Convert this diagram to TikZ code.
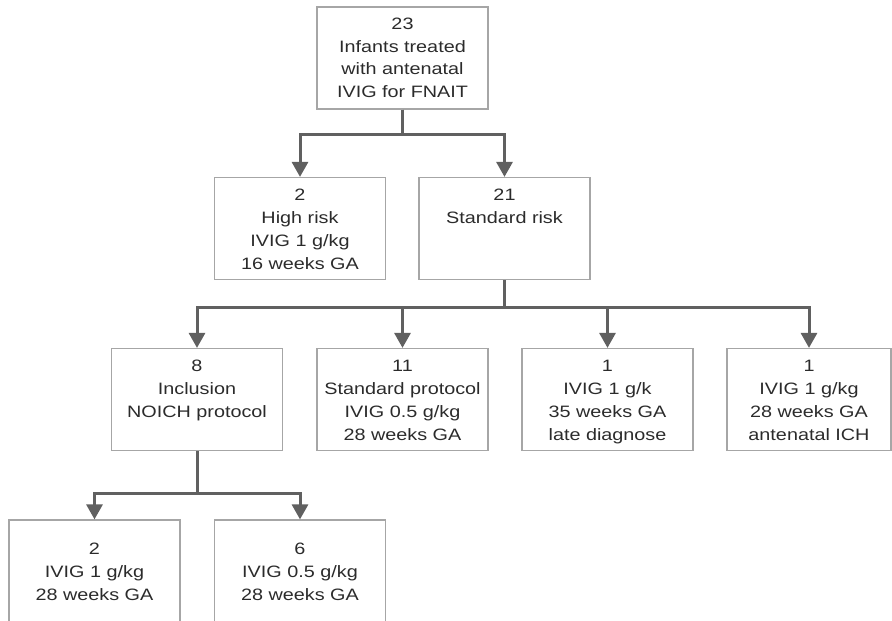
\documentclass[tikz,border=0pt]{standalone}
\usepackage{fontspec}
\setmainfont[FakeStretch=1.2]{Liberation Sans}
\usetikzlibrary{arrows.meta}
\definecolor{boxgrey}{HTML}{A6A6A6}
\definecolor{linegrey}{HTML}{606060}
\definecolor{textgrey}{HTML}{2B2B2B}
% text of a box: width, height of first line, lines
\newcommand{\boxtext}[3]{\parbox[c][102pt][t]{#1pt}{\centering\rule{0pt}{#2pt}#3}}
\begin{document}
\begin{tikzpicture}[x=1pt,y=-1pt,
  box/.style={draw=boxgrey,line width=1.2pt,inner sep=0pt,text=textgrey,
    font=\fontsize{16.5}{23}\selectfont},
  arr/.style={draw=linegrey,line width=3pt,-{Triangle[width=16pt,length=15pt]}}]
  \useasboundingbox (0,0) rectangle (892,621);
  % top
  \node[box] (infants) at (402.5,58) {\boxtext{171}{22}{23\\Infants treated\\with antenatal\\IVIG for FNAIT}};
  % risk
  \node[box] (high) at (300,228.5) {\boxtext{171}{23}{2\\High risk\\IVIG 1 g/kg\\16 weeks GA}};
  \node[box] (standard) at (504.5,228.5) {\boxtext{171}{23}{21\\Standard risk}};
  % standard risk groups
  \node[box] (noich) at (197,399.5) {\boxtext{171}{22.5}{8\\Inclusion\\NOICH protocol}};
  \node[box] (stdprot) at (402.5,399.5) {\boxtext{171}{22.5}{11\\Standard protocol\\IVIG 0.5 g/kg\\28 weeks GA}};
  \node[box] (late) at (607.5,399.5) {\boxtext{171}{22.5}{1\\IVIG 1 g/k\\35 weeks GA\\late diagnose}};
  \node[box] (ich) at (809,399.5) {\boxtext{164}{22.5}{1\\IVIG 1 g/kg\\28 weeks GA\\antenatal ICH}};
  % noich groups
  \node[box] (dose1) at (94.5,571) {\boxtext{171}{34}{2\\IVIG 1 g/kg\\28 weeks GA}};
  \node[box] (dose05) at (300,571) {\boxtext{171}{34}{6\\IVIG 0.5 g/kg\\28 weeks GA}};
  % connectors
  \foreach \t in {high,standard}
    \draw[arr] (infants.south) -- ++(0,25) -| (\t.north);
  \foreach \t in {noich,stdprot,late,ich}
    \draw[arr] (standard.south) -- ++(0,27) -| (\t.north);
  \foreach \t in {dose1,dose05}
    \draw[arr] (noich.south) -- ++(0,42) -| (\t.north);
\end{tikzpicture}
\end{document}
